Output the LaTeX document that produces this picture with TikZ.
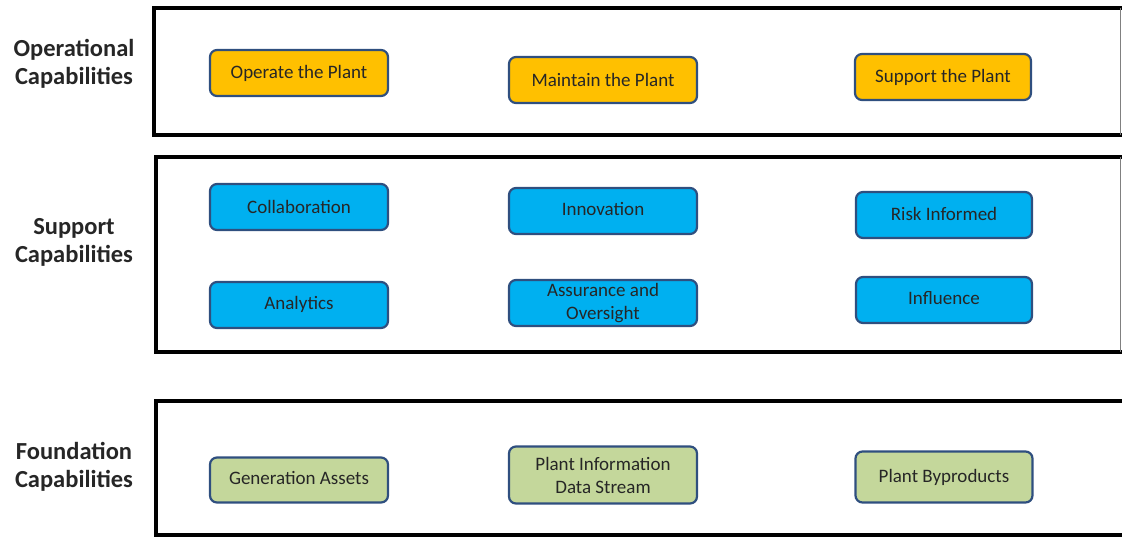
\documentclass[tikz,border=0pt]{standalone}
\usepackage{fontspec}
\setmainfont{Carlito}
\definecolor{orangefill}{HTML}{FFC000}
\definecolor{bluefill}{HTML}{00B0F0}
\definecolor{greenfill}{HTML}{C4D79B}
\definecolor{nodeborder}{HTML}{2F4F7F}
\begin{document}
\begin{tikzpicture}[x=1pt,y=-1pt,
  layerlabel/.style={font=\fontsize{24.5}{28}\selectfont\bfseries, align=center, text=black!85},
  capbox/.style={draw=nodeborder, line width=2.2pt, rounded corners=7pt, minimum height=46pt, minimum width=178pt, inner sep=0pt, align=center, font=\fontsize{19}{23}\selectfont, text=black!85},
  opbox/.style={capbox, fill=orangefill},
  supbox/.style={capbox, fill=bluefill},
  fdbox/.style={capbox, fill=greenfill},
  frame/.style={line width=3.2pt, black},
  frameright/.style={line width=1pt, black!50}
]
\useasboundingbox (0,0) rectangle (1122,536);
% frames
\draw[frame] (1122,8) -- (154,8) -- (154,135) -- (1122,135);
\draw[frameright] (1120,8) -- (1120,135);
\draw[frame] (1122,157) -- (156,157) -- (156,352) -- (1122,352);
\draw[frameright] (1120,157) -- (1120,352);
\draw[frame] (1122,401) -- (156,401) -- (156,535) -- (1122,535);
% labels
\node[layerlabel] (lop) at (74,64) {Operational\\Capabilities};
\node[layerlabel] (lsup) at (74,242) {Support\\Capabilities};
\node[layerlabel] (lfd) at (74,467) {Foundation\\Capabilities};
% operational
\node[opbox] (operate) at (299,73) {Operate the Plant};
\node[opbox, minimum width=188pt] (maintain) at (603,80) {Maintain the Plant};
\node[opbox, minimum width=176pt] (support) at (943,77) {\raisebox{3pt}{Support the Plant}};
% support
\node[supbox] (collab) at (299,207) {Collaboration};
\node[supbox, minimum width=188pt] (innov) at (603,211) {\raisebox{4pt}{Innovation}};
\node[supbox, minimum width=176pt] (risk) at (944,215) {\raisebox{2pt}{Risk Informed}};
\node[supbox] (analytics) at (299,305) {\raisebox{4pt}{Analytics}};
\node[supbox, minimum width=188pt] (assur) at (603,303) {\raisebox{3pt}{\parbox{170pt}{\centering Assurance and\\Oversight}}};
\node[supbox, minimum width=176pt] (influ) at (944,300) {\raisebox{4pt}{Influence}};
% foundation
\node[fdbox, minimum height=45pt] (gen) at (299,480) {\raisebox{4pt}{Generation Assets}};
\node[fdbox, minimum width=188pt, minimum height=57pt] (pids) at (603,475) {\raisebox{3pt}{\parbox{170pt}{\centering Plant Information\\Data Stream}}};
\node[fdbox, minimum width=177pt, minimum height=51pt] (byprod) at (944,477) {\raisebox{1pt}{Plant Byproducts}};
\end{tikzpicture}
\end{document}
